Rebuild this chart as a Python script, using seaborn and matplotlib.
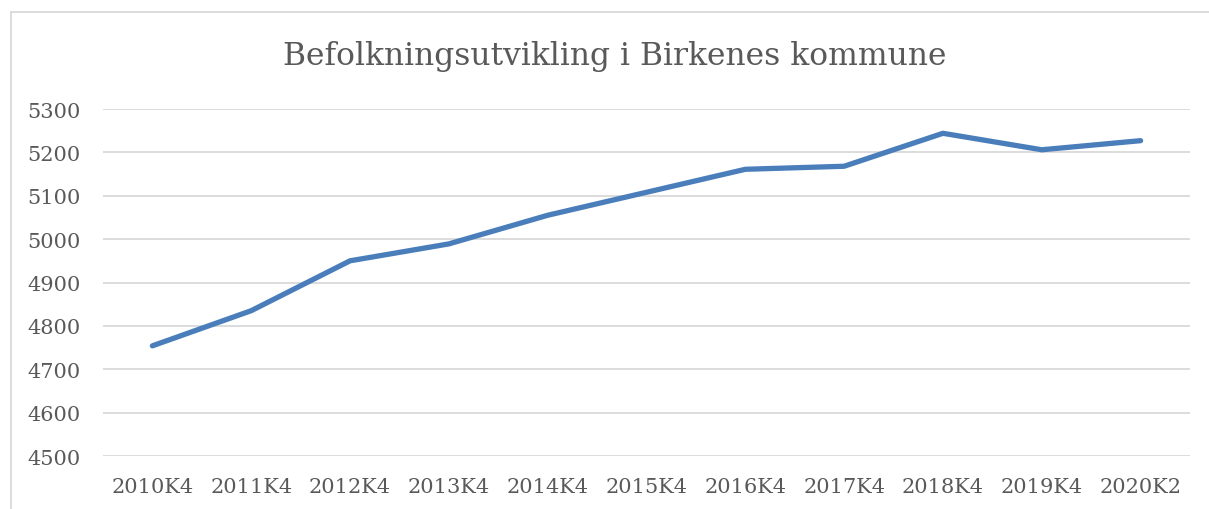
import matplotlib
matplotlib.use("Agg")
import matplotlib.pyplot as plt
import seaborn as sns
import pandas as pd
from matplotlib.lines import Line2D

quarters = ["2010K4", "2011K4", "2012K4", "2013K4", "2014K4", "2015K4",
            "2016K4", "2017K4", "2018K4", "2019K4", "2020K2"]
population = [4754, 4835, 4950, 4989, 5055, 5108, 5161, 5168, 5244, 5206, 5227]
y_ticks = [4500, 4600, 4700, 4800, 4900, 5000, 5100, 5200, 5300]
title = "Befolkningsutvikling i Birkenes kommune"

sns.set_theme(style="white")
plt.rcParams["font.family"] = ["DejaVu Serif"]

df = pd.DataFrame({"kvartal": quarters, "folketall": population})
df["pos"] = range(len(quarters))

fig = plt.figure(figsize=(12.09, 5.10), dpi=100)
ax = fig.add_axes([103 / 1209, 1 - 457 / 510, (1190 - 103) / 1209, (457 - 110) / 510])

sns.lineplot(data=df, x="pos", y="folketall", ax=ax, color="#4A7EBB",
             linewidth=3.8, solid_capstyle="round", solid_joinstyle="round")

ax.set_xlim(-0.5, len(quarters) - 0.5)
ax.set_ylim(4500, 5300)
ax.set_yticks(y_ticks)
ax.set_xticks(range(len(quarters)))
ax.set_xticklabels(quarters)
ax.yaxis.grid(True, color="#D9D9D9", linewidth=1.3)
ax.xaxis.grid(False)
for s in ax.spines.values():
    s.set_visible(False)
ax.tick_params(axis="both", length=0, labelsize=15, labelcolor="#595959")
ax.tick_params(axis="y", pad=16)
ax.tick_params(axis="x", pad=15)
ax.set_xlabel("")
ax.set_ylabel("")

fig.text(615 / 1209, 1 - 57 / 510, title, ha="center", va="center", fontsize=22.6, color="#595959")

bx = 11 / 1209
by = 1 - 13 / 510
fig.add_artist(Line2D([bx, bx], [0, by], transform=fig.transFigure,
                      color="#D9D9D9", linewidth=1.3))
fig.add_artist(Line2D([bx, 1.0], [by, by], transform=fig.transFigure,
                      color="#D9D9D9", linewidth=1.3))

fig.savefig("out.png", dpi=100)
